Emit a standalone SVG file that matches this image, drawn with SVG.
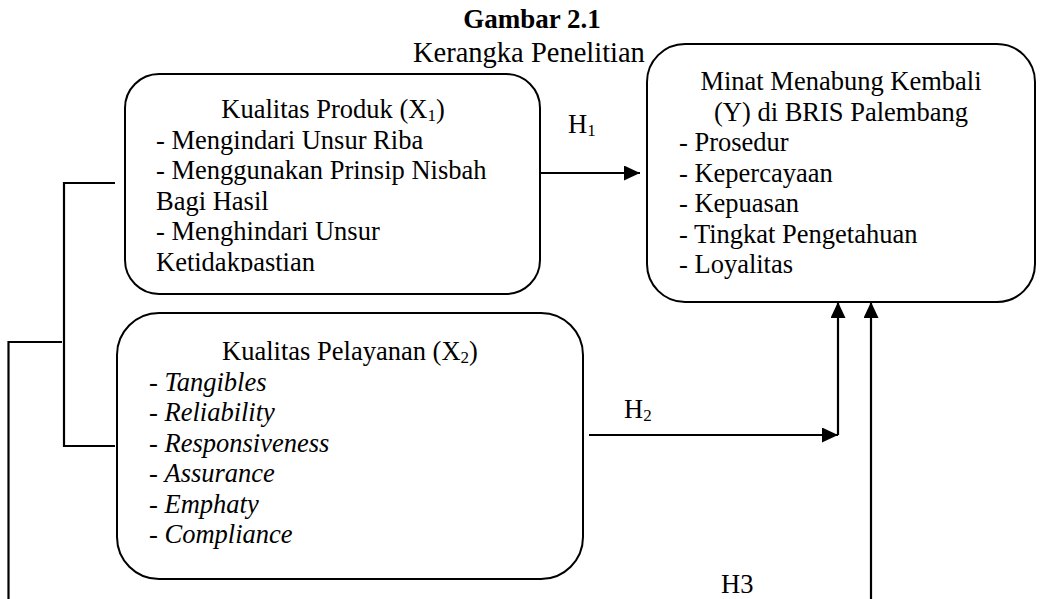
<svg xmlns="http://www.w3.org/2000/svg" width="1041" height="599" viewBox="0 0 1041 599">
<style>
  text { font-family: "Liberation Serif", "Times New Roman", serif; font-size: 26.5px; fill: #000; }
  .title { font-weight: bold; font-size: 27px; }
  .sub { font-size: 17px; }
  .it { font-style: italic; }
  .box { fill: #fff; stroke: #000; stroke-width: 2; }
  .conn { fill: none; stroke: #000; stroke-width: 2.2; }
</style>
<defs>
  <marker id="arrow" markerUnits="userSpaceOnUse" markerWidth="16" markerHeight="15" refX="16" refY="7.5" orient="auto">
    <path d="M0,0 L16,7.5 L0,15 z" fill="#000"/>
  </marker>
  <clipPath id="clipX1"><rect x="125" y="74" width="415" height="198"/></clipPath>
</defs>

<g id="title">
  <text class="title" x="532" y="28" text-anchor="middle">Gambar 2.1</text>
  <text x="413" y="62" style="font-size:28.5px">Kerangka Penelitian</text>
</g>

<g id="connectors">
  <path class="conn" d="M540,173 H640" marker-end="url(#arrow)"/>
  <path class="conn" d="M589,435 H838" marker-end="url(#arrow)"/>
  <path class="conn" d="M838,435 V302" marker-end="url(#arrow)"/>
  <path class="conn" d="M871,599 V302" marker-end="url(#arrow)"/>
  <path class="conn" d="M115,183 H64 V446 H115"/>
  <path class="conn" d="M62,342 H8.5 V599"/>
  <text x="568" y="133">H<tspan class="sub" dy="3">1</tspan></text>
  <text x="624" y="418">H<tspan class="sub" dy="3">2</tspan></text>
  <text x="721" y="593">H3</text>
</g>

<g id="node-x1">
  <rect class="box" x="125" y="74" width="415" height="220" rx="34" ry="34"/>
  <g clip-path="url(#clipX1)">
    <text x="333" y="118" text-anchor="middle">Kualitas Produk (X<tspan class="sub" dy="3">1</tspan><tspan dy="-3">)</tspan></text>
    <text x="156" y="148.5">- Mengindari Unsur Riba</text>
    <text x="156" y="179">- Menggunakan Prinsip Nisbah</text>
    <text x="156" y="209.5">Bagi Hasil</text>
    <text x="156" y="240">- Menghindari Unsur</text>
    <text x="156" y="270.5">Ketidakpastian</text>
  </g>
</g>

<g id="node-y">
  <rect class="box" x="647" y="44" width="388" height="258" rx="38" ry="38"/>
  <text x="841" y="90" text-anchor="middle">Minat Menabung Kembali</text>
  <text x="841" y="120.5" text-anchor="middle">(Y) di BRIS Palembang</text>
  <text x="679" y="151">- Prosedur</text>
  <text x="679" y="181.5">- Kepercayaan</text>
  <text x="679" y="212">- Kepuasan</text>
  <text x="679" y="242.5">- Tingkat Pengetahuan</text>
  <text x="679" y="273">- Loyalitas</text>
</g>

<g id="node-x2">
  <rect class="box" x="117" y="313" width="466" height="266" rx="42" ry="42"/>
  <text x="350" y="360" text-anchor="middle">Kualitas Pelayanan (X<tspan class="sub" dy="3">2</tspan><tspan dy="-3">)</tspan></text>
  <text x="149" y="390.5">- <tspan class="it">Tangibles</tspan></text>
  <text x="149" y="421">- <tspan class="it">Reliability</tspan></text>
  <text x="149" y="451.5">- <tspan class="it">Responsiveness</tspan></text>
  <text x="149" y="482">- <tspan class="it">Assurance</tspan></text>
  <text x="149" y="512.5">- <tspan class="it">Emphaty</tspan></text>
  <text x="149" y="543">- <tspan class="it">Compliance</tspan></text>
</g>
</svg>
